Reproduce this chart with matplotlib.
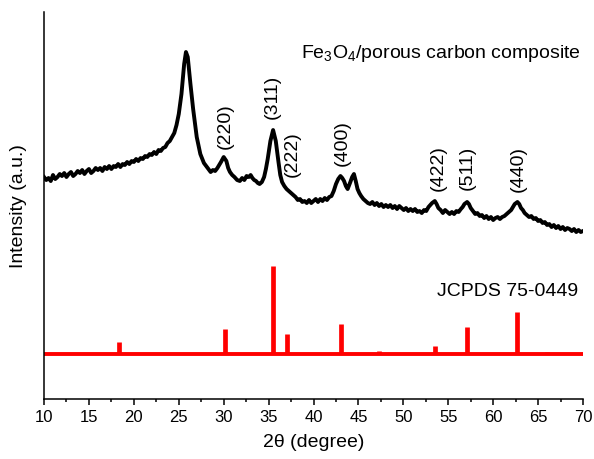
import matplotlib.pyplot as plt
import numpy as np

plt.rcParams['font.family'] = ['Liberation Sans', 'DejaVu Sans']
plt.rcParams['mathtext.fontset'] = 'custom'
plt.rcParams['mathtext.rm'] = 'Liberation Sans'
plt.rcParams['mathtext.default'] = 'regular'

# Measured pattern of the composite (2theta, intensity a.u.)
two_theta = [
    10.0, 10.25, 10.5, 10.75, 11.0, 11.25, 11.5, 11.75, 12.0, 12.25,
    12.5, 12.75, 13.0, 13.25, 13.5, 13.75, 14.0, 14.25, 14.5, 14.75,
    15.0, 15.25, 15.5, 15.75, 16.0, 16.25, 16.5, 16.75, 17.0, 17.25,
    17.5, 17.75, 18.0, 18.25, 18.5, 18.75, 19.0, 19.25, 19.5, 19.75,
    20.0, 20.25, 20.5, 20.75, 21.0, 21.25, 21.5, 21.75, 22.0, 22.25,
    22.5, 22.75, 23.0, 23.25, 23.5, 23.75, 24.0, 24.25, 24.5, 24.75,
    25.0, 25.3, 25.6, 25.8, 26.0, 26.3, 26.6, 27.0, 27.4, 27.8,
    28.05, 28.3, 28.55, 28.8, 29.05, 29.3, 29.5, 29.7, 30.0, 30.3,
    30.5, 30.7, 30.95, 31.2, 31.5, 31.8, 32.05, 32.3, 32.55, 32.8,
    33.0, 33.2, 33.4, 33.6, 33.8, 34.0, 34.25, 34.5, 34.7, 34.9,
    35.2, 35.5, 35.8, 36.1, 36.3, 36.5, 36.75, 37.0, 37.25, 37.5,
    37.75, 38.0, 38.25, 38.5, 38.75, 39.0, 39.25, 39.5, 39.75, 40.0,
    40.25, 40.5, 40.75, 41.0, 41.25, 41.5, 41.75, 42.0, 42.25, 42.5,
    42.75, 43.0, 43.2, 43.4, 43.6, 43.8, 44.1, 44.3, 44.5, 44.7,
    44.9, 45.1, 45.3, 45.55, 45.8, 46.05, 46.3, 46.55, 46.8, 47.05,
    47.3, 47.55, 47.8, 48.05, 48.3, 48.55, 48.8, 49.05, 49.3, 49.55,
    49.8, 50.05, 50.3, 50.55, 50.8, 51.05, 51.3, 51.55, 51.8, 52.05,
    52.3, 52.55, 52.8, 53.0, 53.2, 53.5, 53.7, 53.9, 54.15, 54.4,
    54.65, 54.9, 55.15, 55.4, 55.65, 55.9, 56.15, 56.4, 56.6, 56.8,
    57.1, 57.3, 57.5, 57.75, 58.0, 58.25, 58.5, 58.75, 59.0, 59.25,
    59.5, 59.75, 60.0, 60.25, 60.5, 60.75, 61.0, 61.25, 61.5, 61.75,
    62.0, 62.2, 62.4, 62.7, 62.9, 63.1, 63.3, 63.5, 63.75, 64.0,
    64.25, 64.5, 64.75, 65.0, 65.25, 65.5, 65.75, 66.0, 66.25, 66.5,
    66.75, 67.0, 67.25, 67.5, 67.75, 68.0, 68.25, 68.5, 68.75, 69.0,
    69.25, 69.5, 69.75, 70.0,
]
intensity = [
    222, 219, 221, 218, 224, 220, 222, 225, 223, 226,
    222, 225, 227, 223, 225, 228, 226, 229, 225, 228,
    230, 226, 228, 231, 229, 231, 228, 232, 230, 233,
    230, 233, 232, 235, 232, 235, 234, 237, 235, 238,
    237, 240, 238, 241, 240, 243, 242, 245, 244, 247,
    245, 249, 248, 251, 252, 256, 258, 262, 266, 274,
    285, 305, 335, 347, 342, 315, 290, 262, 245, 236,
    233, 230, 227, 229, 228, 231, 234, 237, 242, 238,
    231, 227, 224, 222, 219, 218, 221, 219, 223, 222,
    224, 221, 219, 218, 216, 215, 217, 222, 230, 240,
    258, 269, 258, 237, 224, 217, 213, 210, 208, 206,
    204, 202, 199, 200, 197, 198, 196, 199, 196, 198,
    200, 197, 200, 198, 201, 199, 202, 203, 208, 215,
    220, 223, 221, 218, 213, 210, 217, 222, 225, 218,
    210, 206, 203, 200, 198, 196, 195, 197, 194, 196,
    193, 195, 192, 194, 192, 194, 191, 193, 190, 193,
    191, 189, 191, 188, 190, 188, 190, 187, 188, 186,
    189, 188, 192, 194, 196, 198, 195, 191, 189, 186,
    189, 187, 185, 187, 185, 188, 187, 190, 192, 195,
    197, 195, 191, 188, 185, 186, 183, 184, 181, 183,
    180, 182, 179, 181, 182, 180, 182, 183, 185, 187,
    189, 192, 195, 197, 195, 191, 189, 186, 184, 182,
    183, 180, 181, 178, 179, 176, 177, 174, 175, 172,
    174, 171, 173, 170, 172, 169, 171, 170, 168, 170,
    167, 169, 167, 168,
]

# Reference pattern JCPDS 75-0449
ref_pos = [18.3, 30.1, 35.5, 37.1, 43.1, 47.3, 53.5, 57.1, 62.7, 66.0]
ref_int = [12, 25, 88, 20, 30, 3, 8, 27, 42, 2]
ref_offset = 45

# hkl labels
hkl = ['(220)', '(311)', '(222)', '(400)', '(422)', '(511)', '(440)']
hkl_pos = [30.15, 35.4, 37.6, 43.2, 53.9, 57.1, 62.8]
hkl_y = [274, 303, 246, 257, 232, 232, 231]

fig = plt.figure(figsize=(5.94, 4.6), dpi=100)
ax = fig.add_axes([0.0741, 0.1304, 0.9074, 0.8413])

ax.plot(two_theta, intensity, color='black', linewidth=2.8, solid_joinstyle='round')

ax.plot([10, 70], [ref_offset, ref_offset], color='red', linewidth=2.8, solid_capstyle='butt')
ax.vlines(ref_pos, ref_offset, np.array(ref_int) + ref_offset, color='red', linewidth=3.4)

for lab, x, y in zip(hkl, hkl_pos, hkl_y):
    ax.text(x, y, lab, rotation=90, ha='center', va='center', fontsize=14)

ax.text(69.8, 347, 'Fe$_3$O$_4$/porous carbon composite', ha='right', va='center', fontsize=14)
ax.text(69.5, 109, 'JCPDS 75-0449', ha='right', va='center', fontsize=14)

ax.set_xlim(10, 70)
ax.set_ylim(0, 387)
ax.set_xticks(np.arange(10, 71, 5))
ax.set_xticks(np.arange(12.5, 70, 5), minor=True)
ax.set_yticks([])
ax.spines['top'].set_visible(False)
ax.spines['right'].set_visible(False)
ax.spines['left'].set_linewidth(1.1)
ax.spines['bottom'].set_linewidth(1.1)
ax.tick_params(axis='x', which='major', direction='out', length=4.5, width=1.1, labelsize=12, pad=3)
ax.tick_params(axis='x', which='minor', direction='out', length=2.5, width=1.1)

ax.set_xlabel('2θ (degree)', fontsize=14, labelpad=6)
ax.set_ylabel('Intensity (a.u.)', fontsize=14, labelpad=12)

fig.savefig('out.png', dpi=100)
